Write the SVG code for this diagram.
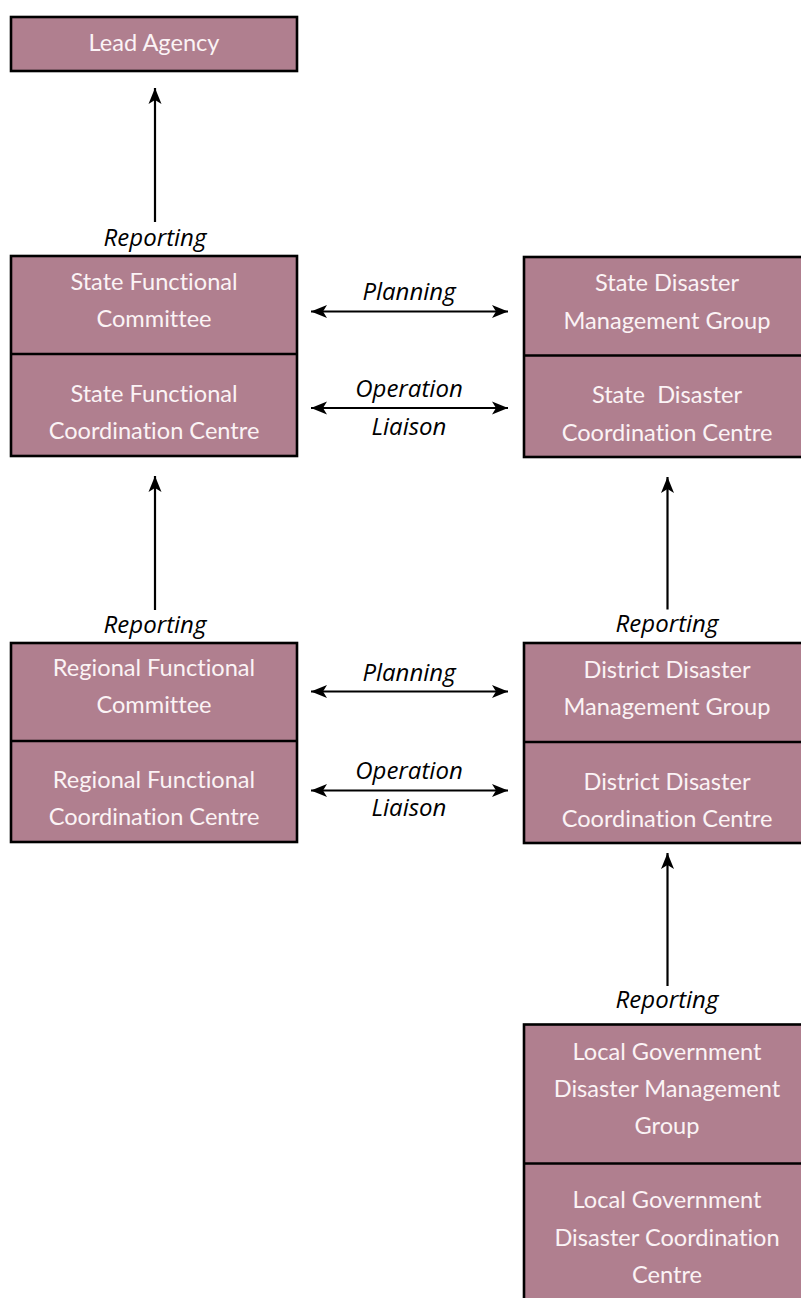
<svg xmlns="http://www.w3.org/2000/svg" width="801" height="1298" viewBox="0 0 801 1298">
<style>
.box{fill:#b07f8f;stroke:#000;stroke-width:2.6}
.div{stroke:#000;stroke-width:2.6}
.t{font-family:Lato,"Open Sans",sans-serif;font-size:23.6px;fill:#fbf3f5;text-anchor:middle;white-space:pre;font-variant-ligatures:none}
.lbl{font-family:"Open Sans","Noto Sans",sans-serif;font-style:italic;font-size:24px;fill:#000;text-anchor:middle}
.ln{stroke:#000;stroke-width:2.2;fill:none}
</style>
<defs>
<marker id="ah" viewBox="-17 -7 18 14" refX="0" refY="0" markerWidth="18" markerHeight="14" markerUnits="userSpaceOnUse" orient="auto-start-reverse">
<path d="M0,0 L-16,-6.5 L-12,0 L-16,6.5 Z" fill="#000"/>
</marker>
</defs>
<g id="lead-agency">
<rect class="box" x="11" y="17" width="286" height="54"/>
<text class="t" x="154" y="51">Lead Agency</text>
</g>
<g id="state-functional">
<rect class="box" x="11" y="256" width="286" height="200"/>
<line class="div" x1="11" y1="354" x2="297" y2="354"/>
<text class="t" x="154" y="290">State Functional</text>
<text class="t" x="154" y="327">Committee</text>
<text class="t" x="154" y="402">State Functional</text>
<text class="t" x="154" y="439">Coordination Centre</text>
</g>
<g id="state-disaster">
<rect class="box" x="524" y="257" width="286" height="200"/>
<line class="div" x1="524" y1="355.5" x2="810" y2="355.5"/>
<text class="t" x="667" y="291">State Disaster</text>
<text class="t" x="667" y="329">Management Group</text>
<text class="t" x="667" y="403">State  Disaster</text>
<text class="t" x="667" y="441">Coordination Centre</text>
</g>
<g id="regional-functional">
<rect class="box" x="11" y="643" width="286" height="199"/>
<line class="div" x1="11" y1="741" x2="297" y2="741"/>
<text class="t" x="154" y="676">Regional Functional</text>
<text class="t" x="154" y="713">Committee</text>
<text class="t" x="154" y="788">Regional Functional</text>
<text class="t" x="154" y="825">Coordination Centre</text>
</g>
<g id="district-disaster">
<rect class="box" x="524" y="643" width="286" height="200"/>
<line class="div" x1="524" y1="742" x2="810" y2="742"/>
<text class="t" x="667" y="678">District Disaster</text>
<text class="t" x="667" y="715">Management Group</text>
<text class="t" x="667" y="790">District Disaster</text>
<text class="t" x="667" y="827">Coordination Centre</text>
</g>
<g id="local-government">
<rect class="box" x="524" y="1024.5" width="286" height="300"/>
<line class="div" x1="524" y1="1163.5" x2="810" y2="1163.5"/>
<text class="t" x="667" y="1060">Local Government</text>
<text class="t" x="667" y="1097">Disaster Management</text>
<text class="t" x="667" y="1134">Group</text>
<text class="t" x="667" y="1208">Local Government</text>
<text class="t" x="667" y="1246">Disaster Coordination</text>
<text class="t" x="667" y="1283">Centre</text>
</g>
<g id="connectors">
<line class="ln" x1="155" y1="222" x2="155" y2="88" marker-end="url(#ah)"/>
<text class="lbl" x="155" y="246">Reporting</text>
<line class="ln" x1="155" y1="610" x2="155" y2="476" marker-end="url(#ah)"/>
<text class="lbl" x="155" y="633">Reporting</text>
<line class="ln" x1="667.5" y1="609.5" x2="667.5" y2="477" marker-end="url(#ah)"/>
<text class="lbl" x="667" y="632">Reporting</text>
<line class="ln" x1="667.5" y1="986" x2="667.5" y2="853" marker-end="url(#ah)"/>
<text class="lbl" x="667" y="1008">Reporting</text>
<line class="ln" x1="311" y1="311.5" x2="508" y2="311.5" marker-start="url(#ah)" marker-end="url(#ah)"/>
<text class="lbl" x="409" y="300">Planning</text>
<line class="ln" x1="311" y1="408" x2="508" y2="408" marker-start="url(#ah)" marker-end="url(#ah)"/>
<text class="lbl" x="409" y="397">Operation</text>
<text class="lbl" x="409" y="435">Liaison</text>
<line class="ln" x1="311" y1="691.5" x2="508" y2="691.5" marker-start="url(#ah)" marker-end="url(#ah)"/>
<text class="lbl" x="409" y="681">Planning</text>
<text class="lbl" x="409" y="779">Operation</text>
<line class="ln" x1="311" y1="790.5" x2="508" y2="790.5" marker-start="url(#ah)" marker-end="url(#ah)"/>
<text class="lbl" x="409" y="816">Liaison</text>
</g>
</svg>
